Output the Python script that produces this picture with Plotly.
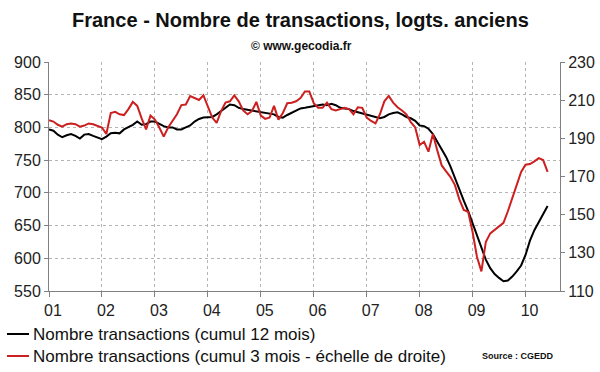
import plotly.graph_objects as go

# Monthly data, Jan 2001 .. Jun 2010
start_year = 2001
n_months = 114
months = [start_year + i / 12 for i in range(n_months)]

# Nombre transactions (cumul 12 mois) - left axis (thousands)
cumul_12 = [
    797, 795, 789, 785, 788, 790, 787, 783, 789, 790, 787, 784,
    782, 786, 791, 792, 791, 797, 800, 804, 809, 804, 805, 809,
    809, 805, 802, 800, 800, 797, 797, 800, 803, 809, 813, 815,
    815, 816, 820, 825, 830, 835, 834, 830, 828, 827, 826, 825,
    824, 823, 822, 820, 816, 815, 819, 822, 826, 829, 830, 831,
    833, 834, 835, 834, 836, 834, 830, 829, 828, 825, 823, 822,
    820, 817, 815, 814, 816, 820, 822, 823, 820, 816, 814, 810,
    803, 802, 798, 790, 778, 766, 755, 740, 722, 705, 688, 672,
    654, 635, 615, 598, 585, 576, 570, 565, 566, 572, 580, 589,
    605, 627, 643, 656, 668, 680,
]

# Nombre transactions (cumul 3 mois) - right axis (thousands)
cumul_3 = [
    199.5, 198.8, 197.1, 196.1, 197.4, 197.8, 197.4, 196.1, 196.7, 197.8, 197.4, 196.4,
    195.7, 192.3, 203.3, 203.9, 202.6, 202.2, 205.3, 209.1, 207.0, 200.5, 194.7, 201.9,
    199.8, 195.7, 190.9, 195.7, 199.1, 202.6, 207.4, 207.7, 212.2, 211.1, 210.1, 212.5,
    206.7, 200.9, 198.1, 204.3, 208.7, 209.4, 212.5, 209.4, 204.6, 202.6, 204.3, 209.1,
    201.9, 200.2, 200.9, 207.0, 199.8, 203.3, 208.4, 208.7, 209.4, 211.1, 214.6, 214.6,
    208.4, 206.0, 206.0, 208.7, 205.3, 204.6, 205.3, 206.0, 205.3, 202.6, 206.3, 206.0,
    200.9, 199.1, 197.8, 202.6, 209.4, 212.2, 208.7, 206.3, 204.6, 202.6, 198.5, 195.7,
    186.5, 188.2, 183.0, 192.3, 183.7, 175.8, 172.7, 169.7, 165.5, 158.0, 152.5, 151.5,
    140.9, 127.8, 120.3, 135.7, 140.2, 142.2, 143.9, 145.7, 151.8, 158.7, 165.5, 172.4,
    176.2, 176.5, 177.9, 179.6, 178.6, 172.4,
]

year_ticks = list(range(2001, 2011))
year_labels = ["01", "02", "03", "04", "05", "06", "07", "08", "09", "10"]

title_text = "France - Nombre de transactions, logts. anciens"
subtitle_text = "© www.gecodia.fr"
name_12 = "Nombre transactions (cumul 12 mois)"
name_3 = "Nombre transactions (cumul 3 mois - échelle de droite)"
source_text = "Source : CGEDD"

FONT = "Liberation Sans, Arial, sans-serif"
GRID = "#b4b4b4"
AXIS = "#808080"
BLACK = "#000000"
RED = "#cc2020"

W, H = 600, 372
ML, MR, MT, MB = 49, 40, 62, 81
PW, PH = W - ML - MR, H - MT - MB


def px_x(x):
    return (x - ML) / PW


def px_y(y):
    return (MT + PH - y) / PH


fig = go.Figure()
fig.add_trace(go.Scatter(
    x=months, y=cumul_12, mode="lines", name=name_12,
    line=dict(color=BLACK, width=2), showlegend=False,
))
fig.add_trace(go.Scatter(
    x=months, y=cumul_3, mode="lines", name=name_3,
    line=dict(color=RED, width=2), yaxis="y2", showlegend=False,
))

annotations = [
    dict(text="<b>" + title_text + "</b>", x=px_x(300), y=px_y(20),
         font=dict(size=20, color="#111111")),
    dict(text="<b>" + subtitle_text + "</b>", x=px_x(301), y=px_y(46),
         font=dict(size=12, color="#111111")),
    dict(text="<b>" + source_text + "</b>", x=px_x(480), y=px_y(356),
         xanchor="left", font=dict(size=9, color="#111111")),
    dict(text=name_12, x=px_x(31), y=px_y(334), xanchor="left",
         font=dict(size=17, color="#111111")),
    dict(text=name_3, x=px_x(31), y=px_y(356), xanchor="left",
         font=dict(size=17, color="#111111")),
]
for a in annotations:
    a.update(xref="paper", yref="paper", showarrow=False)
    a.setdefault("xanchor", "center")
    a["yanchor"] = "middle"

shapes = [
    dict(type="line", xref="paper", yref="paper", x0=px_x(7), x1=px_x(29),
         y0=px_y(334), y1=px_y(334), line=dict(color=BLACK, width=2)),
    dict(type="line", xref="paper", yref="paper", x0=px_x(7), x1=px_x(29),
         y0=px_y(356), y1=px_y(356), line=dict(color=RED, width=2)),
]

fig.update_layout(
    width=W, height=H,
    margin=dict(l=ML, r=MR, t=MT, b=MB, autoexpand=False),
    paper_bgcolor="white", plot_bgcolor="white",
    font=dict(family=FONT, color="#222222"),
    showlegend=False,
    xaxis=dict(
        range=[2001, 2010.651], tickvals=year_ticks, ticktext=year_labels,
        showgrid=True, gridcolor=GRID, griddash="dot", gridwidth=1,
        showline=True, linecolor=AXIS, linewidth=1,
        ticks="outside", ticklen=5, tickcolor=AXIS,
        tickfont=dict(size=16, color="#222222"), zeroline=False,
        ticklabelshift=4,
    ),
    yaxis=dict(
        range=[550, 900], dtick=50, tick0=550,
        showgrid=True, gridcolor=GRID, griddash="dot", gridwidth=1,
        showline=True, linecolor=AXIS, linewidth=1,
        ticks="outside", ticklen=4, tickcolor=AXIS,
        tickfont=dict(size=16, color="#222222"), zeroline=False,
    ),
    yaxis2=dict(
        range=[110, 230], dtick=20, tick0=110, overlaying="y", side="right",
        showgrid=False, showline=True, linecolor=AXIS, linewidth=1,
        ticks="outside", ticklen=4, tickcolor=AXIS,
        tickfont=dict(size=16, color="#222222"), zeroline=False,
    ),
    annotations=annotations,
    shapes=shapes,
)

fig.write_html(
    "out.html",
    config={"displayModeBar": False},
    post_script="document.body.style.margin='0';document.body.style.overflow='hidden';",
)
